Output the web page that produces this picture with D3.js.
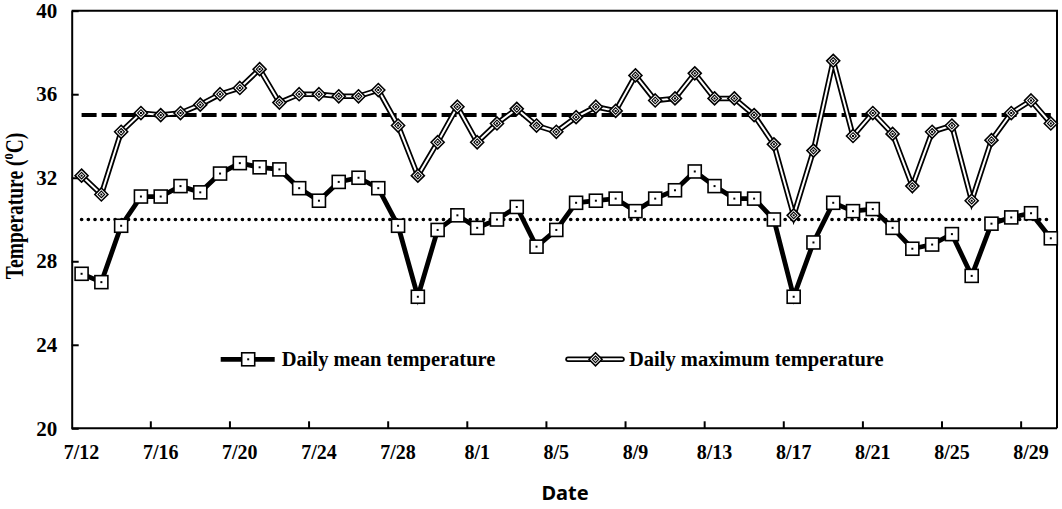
<!DOCTYPE html>
<html>
<head>
<meta charset="utf-8">
<script src="https://d3js.org/d3.v7.min.js"></script>
<style>
  body { margin: 0; background: #fff; }
  svg { display: block; }
</style>
</head>
<body>
<div id="container"></div>
<script>

var width = 1062, height = 509;

// categories: 7/12 .. 8/30
var dates = ["7/12","7/13","7/14","7/15","7/16","7/17","7/18","7/19","7/20","7/21",
  "7/22","7/23","7/24","7/25","7/26","7/27","7/28","7/29","7/30","7/31",
  "8/1","8/2","8/3","8/4","8/5","8/6","8/7","8/8","8/9","8/10",
  "8/11","8/12","8/13","8/14","8/15","8/16","8/17","8/18","8/19","8/20",
  "8/21","8/22","8/23","8/24","8/25","8/26","8/27","8/28","8/29","8/30"];

var meanTemp = [27.4,27.0,29.7,31.1,31.1,31.6,31.3,32.2,32.7,32.5,
  32.4,31.5,30.9,31.8,32.0,31.5,29.7,26.3,29.5,30.2,
  29.6,30.0,30.6,28.7,29.5,30.8,30.9,31.0,30.4,31.0,
  31.4,32.3,31.6,31.0,31.0,30.0,26.3,28.9,30.8,30.4,
  30.5,29.6,28.6,28.8,29.3,27.3,29.8,30.1,30.3,29.1];

var maxTemp = [32.1,31.2,34.2,35.1,35.0,35.1,35.5,36.0,36.3,37.2,
  35.6,36.0,36.0,35.9,35.9,36.2,34.5,32.1,33.7,35.4,
  33.7,34.6,35.3,34.5,34.2,34.9,35.4,35.2,36.9,35.7,
  35.8,37.0,35.8,35.8,35.0,33.6,30.2,33.3,37.6,34.0,
  35.1,34.1,31.6,34.2,34.5,30.9,33.8,35.1,35.7,34.6];

var tickDates = ["7/12","7/16","7/20","7/24","7/28","8/1","8/5","8/9","8/13","8/17","8/21","8/25","8/29"];
var yTicks = [20,24,28,32,36,40];
var refLines = [{v:35, dash:"15,5", w:4, cap:"butt"}, {v:30, dash:"0.1,6.6", w:3.6, cap:"round"}];
var seriesNames = ["Daily mean temperature","Daily maximum temperature"];

var mLeft = 71.7, mRight = 1057, mTop = 10.7, mBottom = 428.3;

var svg = d3.select('#container')
  .append('svg')
  .attr('width', width)
  .attr('height', height);

var x = d3.scaleBand()
  .domain(dates)
  .range([mLeft, mLeft + dates.length*19.78]);

var y = d3.scaleLinear()
  .domain([20, 40])
  .range([mBottom, mTop]);

var cx = d => x(d) + x.bandwidth()/2;

var serif = "'Liberation Serif','Times New Roman',serif";

// frame
svg.append("path")
  .attr("d", `M${mLeft},${mTop}H${mRight}V${mBottom}`)
  .attr("fill", "none").attr("stroke", "#000").attr("stroke-width", 2);

// y axis
var yAxis = svg.append("g")
  .attr("transform", `translate(${mLeft},0)`)
  .call(d3.axisLeft(y).tickValues(yTicks).tickSizeInner(-7).tickSizeOuter(0).tickPadding(14.5));
yAxis.select(".domain").attr("stroke-width", 2);
yAxis.selectAll(".tick line").attr("stroke-width", 2);
yAxis.selectAll("text")
  .style("font-family", serif).style("font-weight", "bold").style("font-size", "21px").attr("fill", "#000");

// x axis (labels at band centres, ticks on band edges)
var xAxis = svg.append("g")
  .attr("transform", `translate(0,${mBottom})`)
  .call(d3.axisBottom(x).tickValues(tickDates).tickSize(0).tickPadding(17));
xAxis.select(".domain").attr("d", `M${mLeft},0H${mRight}`).attr("stroke-width", 2);
xAxis.selectAll("text")
  .style("font-family", serif).style("font-weight", "bold").style("font-size", "20px").attr("fill", "#000");

svg.selectAll(".xtick")
  .data(tickDates.slice(1))
  .enter().append("line")
  .attr("class", "xtick")
  .attr("x1", d => x(d)).attr("x2", d => x(d))
  .attr("y1", mBottom).attr("y2", mBottom - 7)
  .attr("stroke", "#000").attr("stroke-width", 2);

// reference lines
svg.selectAll(".ref")
  .data(refLines)
  .enter().append("line")
  .attr("x1", cx(dates[0])).attr("x2", cx(dates[dates.length-1]))
  .attr("y1", d => y(d.v)).attr("y2", d => y(d.v))
  .attr("stroke", "#000")
  .attr("stroke-width", d => d.w)
  .attr("stroke-dasharray", d => d.dash)
  .attr("stroke-linecap", d => d.cap);

var line = d3.line().x((d, i) => cx(dates[i])).y(d => y(d));

// max temperature: double line
svg.append("path").attr("d", line(maxTemp))
  .attr("fill", "none").attr("stroke", "#000").attr("stroke-width", 5.5).attr("stroke-linejoin", "miter");
svg.append("path").attr("d", line(maxTemp))
  .attr("fill", "none").attr("stroke", "#fff").attr("stroke-width", 2).attr("stroke-linejoin", "miter");

// mean temperature: thick line
svg.append("path").attr("d", line(meanTemp))
  .attr("fill", "none").attr("stroke", "#000").attr("stroke-width", 4.8);

function diamond(g) {
  g.append("path").attr("d", "M0,-6.5L6.5,0L0,6.5L-6.5,0Z")
    .attr("fill", "#fff").attr("stroke", "#000").attr("stroke-width", 1.6);
  g.append("path").attr("d", "M0,-3.3L3.3,0L0,3.3L-3.3,0Z")
    .attr("fill", "none").attr("stroke", "#000").attr("stroke-width", 1.1);
  g.append("rect").attr("x", -1).attr("y", -1).attr("width", 2).attr("height", 2).attr("fill", "#000");
}
function square(g) {
  g.append("rect").attr("x", -6.5).attr("y", -6.5).attr("width", 13).attr("height", 13)
    .attr("fill", "#fff").attr("stroke", "#000").attr("stroke-width", 1.6);
  g.append("rect").attr("x", -1).attr("y", -1).attr("width", 2).attr("height", 2).attr("fill", "#000");
}

svg.selectAll(".dmax")
  .data(maxTemp)
  .enter().append("g")
  .attr("class", "dmax")
  .attr("transform", (d, i) => `translate(${cx(dates[i])},${y(d)})`)
  .each(function() { diamond(d3.select(this)); });

svg.selectAll(".dmean")
  .data(meanTemp)
  .enter().append("g")
  .attr("class", "dmean")
  .attr("transform", (d, i) => `translate(${cx(dates[i])},${y(d)})`)
  .each(function() { square(d3.select(this)); });

// legend
var legY = 359.3;
var leg1 = svg.append("g").attr("transform", `translate(220.7,${legY})`);
leg1.append("line").attr("x1", 0).attr("x2", 54).attr("stroke", "#000").attr("stroke-width", 4.8);
square(leg1.append("g").attr("transform", "translate(27.5,0)"));
leg1.append("text").attr("x", 61).attr("y", 7)
  .style("font-family", serif).style("font-weight", "bold").style("font-size", "20.5px")
  .text(seriesNames[0]);

var leg2 = svg.append("g").attr("transform", `translate(568,${legY})`);
leg2.append("line").attr("x1", 0).attr("x2", 54).attr("stroke", "#000").attr("stroke-width", 5.5).attr("stroke-linecap", "round");
leg2.append("line").attr("x1", 0).attr("x2", 54).attr("stroke", "#fff").attr("stroke-width", 2).attr("stroke-linecap", "round");
diamond(leg2.append("g").attr("transform", "translate(27.5,0)"));
leg2.append("text").attr("x", 61).attr("y", 7)
  .style("font-family", serif).style("font-weight", "bold").style("font-size", "20.5px")
  .text(seriesNames[1]);

// axis titles
var yt = svg.append("text")
  .attr("transform", "translate(23,206) scale(1,0.78) rotate(-90)")
  .attr("text-anchor", "middle")
  .style("font-family", serif).style("font-weight", "bold").style("font-size", "25px");
yt.append("tspan").text("Temperature (");
yt.append("tspan").attr("dy", -10).style("font-size", "16px").text("o");
yt.append("tspan").attr("dy", 10).text("C)");

svg.append("text")
  .attr("x", 565).attr("y", 500)
  .attr("text-anchor", "middle")
  .style("font-family", "'Noto Sans','Open Sans',sans-serif").style("font-weight", "bold").style("font-size", "20px")
  .text("Date");

</script>
</body>
</html>
